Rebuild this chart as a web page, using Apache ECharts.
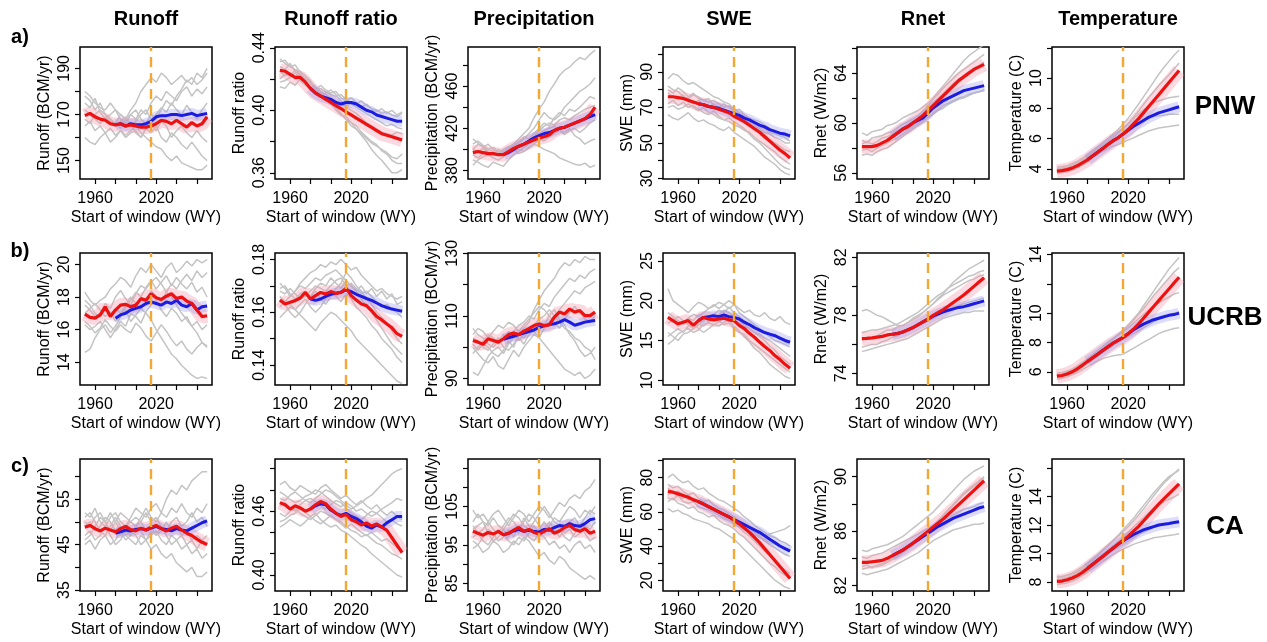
<!DOCTYPE html>
<html>
<head>
<meta charset="utf-8">
<script src="https://cdn.jsdelivr.net/npm/echarts@6/dist/echarts.min.js"></script>
<style>
html, body { margin: 0; padding: 0; background: #fff; }
#chart { width: 1267px; height: 642px; }
</style>
</head>
<body>
<div id="chart"></div>
<script>
// start year of each 30-yr window (every 5 yrs)
var years = [1950,1955,1960,1965,1970,1975,1980,1985,1990,1995,2000,2005,2010,2015,2020,2025,2030,2035,2040,2045,2050,2055,2060,2065,2070];
var blueYears = [1980,1985,1990,1995,2000,2005,2010,2015,2020,2025,2030,2035,2040,2045,2050,2055,2060,2065,2070];
var xTicks = [1960,1980,2000,2020,2040,2060];
var xLabels = [1960,2020];
var columnTitles = ['Runoff','Runoff ratio','Precipitation','SWE','Rnet','Temperature'];
var regionNames = ['PNW','UCRB','CA'];
var rowTags = ['a)','b)','c)'];

// ---- PNW ----
var pnwRunoffRed = [169.5,170.5,169,168,167.5,166,165.5,166,165,165.5,165,164.5,164.5,165,166,167.5,167,166,167.5,166,164.5,166.5,165,166,169];
var pnwRunoffBlue = [165.5,166,165,166,165.5,165.5,166,167,169,169.5,169.5,170,170,169.5,170,170.5,169.5,170,170.5];
var pnwRunoffGray = [
  [178,176,172,175,170,168,166,170,168,172,175,180,183,186,184,188,186,183,185,187,184,186,183,185,188],
  [160,158,157,160,162,158,160,163,161,163,165,162,160,158,156,155,152,150,152,149,148,147,146,146,148],
  [175,173,177,171,168,170,172,168,166,170,168,172,170,175,178,176,180,178,176,180,182,178,181,179,182],
  [165,167,163,165,162,164,161,163,160,162,163,160,164,162,165,160,158,162,160,157,155,158,155,152,150],
  [172,170,168,166,169,167,165,167,169,165,167,170,172,168,170,173,171,175,172,170,174,171,168,172,175],
  [168,166,170,172,170,168,166,164,168,166,162,160,164,166,163,167,165,160,163,165,162,160,163,160,158],
  [180,178,175,173,172,175,172,170,168,170,172,168,166,170,168,172,176,174,178,181,185,183,188,186,190]
];
var pnwRatioRed = [0.4256,0.425,0.423,0.421,0.421,0.418,0.414,0.411,0.409,0.407,0.405,0.403,0.401,0.399,0.397,0.395,0.393,0.391,0.389,0.387,0.385,0.384,0.383,0.382,0.381];
var pnwRatioBlue = [0.414,0.411,0.409,0.408,0.407,0.405,0.404,0.405,0.405,0.404,0.402,0.400,0.399,0.397,0.396,0.395,0.394,0.393,0.393];
var pnwRatioGray = [
  [.431,.432,.428,.429,.424,.420,.418,.415,.412,.410,.408,.406,.404,.402,.400,.398,.395,.392,.390,.388,.386,.385,.384,.386,.385],
  [.415,.414,.418,.416,.420,.421,.417,.413,.410,.407,.405,.400,.397,.396,.392,.388,.384,.380,.375,.371,.368,.364,.360,.360,.362],
  [.428,.426,.430,.425,.422,.418,.415,.413,.414,.412,.410,.409,.410,.407,.405,.404,.406,.403,.401,.400,.398,.399,.397,.396,.398],
  [.420,.423,.422,.426,.423,.420,.417,.414,.411,.408,.404,.401,.398,.394,.392,.390,.386,.383,.380,.378,.374,.372,.368,.366,.366],
  [.425,.422,.424,.420,.419,.416,.414,.411,.409,.411,.413,.410,.406,.403,.404,.402,.400,.398,.396,.394,.392,.390,.391,.389,.388],
  [.433,.430,.428,.426,.425,.422,.419,.414,.409,.407,.404,.402,.398,.394,.390,.388,.385,.382,.379,.377,.375,.373,.370,.369,.372],
  [.418,.419,.421,.424,.420,.418,.415,.413,.416,.413,.411,.412,.408,.406,.408,.405,.402,.404,.401,.399,.401,.398,.400,.397,.399]
];
var pnwPrecipRed = [397,398,397,396,396,395,395,398,401,403,405,407,409,411,412,414,418,420,421,423,425,427,429,433,440];
var pnwPrecipBlue = [395,397,400,403,405,408,411,413,415,416,418,420,421,423,425,427,429,431,433];
var pnwPrecipGray = [
  [400,405,403,398,395,400,397,402,405,410,415,420,430,438,445,455,462,470,475,478,483,487,485,490,494],
  [390,388,385,383,388,386,384,390,395,398,402,405,410,415,418,420,422,418,416,420,413,410,405,408,410],
  [405,408,404,400,402,398,396,400,403,406,410,415,420,428,435,430,428,432,440,445,450,455,458,462,468],
  [395,392,396,400,398,394,398,396,398,400,398,402,405,403,400,398,396,392,390,388,386,385,387,383,385],
  [410,406,402,405,400,397,395,399,404,407,412,410,415,420,425,422,430,435,432,438,436,440,445,450,448],
  [385,390,393,395,392,390,393,398,400,396,398,401,405,410,408,412,415,418,414,418,420,416,420,425,428],
  [400,398,401,397,395,397,400,403,400,404,405,408,412,418,422,425,423,428,430,428,432,435,438,440,442]
];
var pnwSweRed = [76,76,75.5,75,74,73,72,71.5,70.5,70,69,68,67,65,63.5,62,60,58,56,53.5,51,48.5,46,44,41.5];
var pnwSweBlue = [72,71.5,70.5,70,69.5,68.5,67.5,66.5,65.5,64,63,61.5,60,59,57.5,56.5,55.5,55,54];
var pnwSweGray = [
  [86,89,88,85,83,84,82,80,78,76,75,73,72,69,67,65,62,60,57,55,52,50,48,46,45],
  [66,64,63,65,67,64,62,63,61,60,58,57,59,56,54,52,50,48,45,42,40,38,35,33,32],
  [80,78,81,79,76,78,75,74,73,74,72,70,71,68,66,64,62,60,58,56,55,53,52,50,50],
  [72,74,71,73,70,71,69,67,66,68,65,63,64,62,60,58,55,52,50,47,44,41,38,36,35],
  [78,76,75,77,73,72,74,71,70,72,70,68,66,67,65,64,62,61,59,58,56,55,54,53,51],
  [70,71,69,70,72,70,68,70,67,66,64,63,62,60,59,57,56,53,51,49,47,45,42,40,38],
  [82,80,79,76,75,77,76,74,75,71,70,72,70,68,69,66,64,63,62,60,58,57,55,54,53]
];
var pnwRnetRed = [58.1,58.1,58.1,58.2,58.4,58.6,58.9,59.2,59.5,59.7,60.0,60.3,60.6,61.0,61.4,61.8,62.2,62.6,63.0,63.4,63.7,64.0,64.3,64.5,64.7];
var pnwRnetBlue = [58.9,59.2,59.5,59.7,60.0,60.2,60.4,60.8,61.2,61.5,61.8,62.0,62.2,62.4,62.6,62.7,62.8,62.9,63.0];
var pnwRnetGray = [
  [59.2,59.0,59.3,59.4,59.5,59.8,59.9,60.1,60.4,60.6,60.8,61.0,61.3,61.6,62.0,62.5,63.0,63.5,64.0,64.5,65.0,65.4,65.7,66.0,66.3],
  [57.4,57.5,57.4,57.7,57.9,58.0,58.3,58.6,58.9,59.2,59.5,59.8,60.1,60.4,60.7,61.0,61.2,61.5,61.7,61.9,62.0,62.2,62.4,62.5,62.6],
  [58.6,58.4,58.8,58.9,59.0,59.2,59.3,59.6,59.9,60.1,60.3,60.6,61.0,61.4,61.9,62.3,62.8,63.2,63.6,64.0,64.3,64.6,64.9,65.2,65.5],
  [57.8,57.9,57.7,58.0,58.2,58.4,58.6,58.8,59.1,59.4,59.7,60.0,60.2,60.5,60.8,61.1,61.4,61.6,61.8,62.0,62.1,62.3,62.4,62.5,62.7],
  [58.3,58.5,58.3,58.5,58.8,58.9,59.1,59.4,59.6,59.9,60.1,60.4,60.8,61.2,61.6,62.0,62.4,62.8,63.2,63.5,63.8,64.1,64.4,64.6,64.9]
];
var pnwTempRed = [3.85,3.88,3.95,4.05,4.2,4.4,4.6,4.85,5.1,5.35,5.6,5.85,6.05,6.3,6.6,6.95,7.3,7.7,8.1,8.5,8.9,9.3,9.7,10.1,10.5];
var pnwTempBlue = [4.6,4.85,5.1,5.35,5.6,5.85,6.05,6.3,6.55,6.8,7.0,7.2,7.4,7.55,7.7,7.8,7.9,8.0,8.1];
var pnwTempGray = [
  [3.9,3.95,4.05,4.2,4.35,4.6,4.85,5.1,5.4,5.7,6.0,6.3,6.6,6.95,7.35,7.8,8.25,8.75,9.25,9.75,10.25,10.7,11.1,11.5,11.85],
  [3.7,3.75,3.8,3.9,4.05,4.25,4.45,4.7,4.95,5.15,5.35,5.5,5.6,5.75,5.9,6.05,6.2,6.35,6.5,6.6,6.7,6.75,6.8,6.85,6.9],
  [4.1,4.15,4.2,4.35,4.5,4.7,4.95,5.2,5.45,5.7,5.95,6.2,6.45,6.7,7.0,7.3,7.6,7.9,8.15,8.35,8.5,8.6,8.7,8.75,8.8],
  [3.8,3.85,3.95,4.05,4.2,4.4,4.6,4.85,5.1,5.35,5.55,5.8,6.05,6.3,6.55,6.8,7.0,7.2,7.35,7.45,7.5,7.55,7.6,7.6,7.6],
  [4.0,4.05,4.1,4.25,4.4,4.6,4.8,5.05,5.3,5.55,5.8,6.05,6.35,6.65,7.0,7.4,7.8,8.25,8.7,9.1,9.5,9.85,10.2,10.6,11.0]
];

// ---- UCRB ----
var ucrbRunoffRed = [16.95,16.75,16.7,16.9,17.4,16.8,17.2,17.5,17.55,17.4,17.5,17.9,17.8,18.2,17.95,17.85,18.05,18.2,17.9,18.0,17.75,17.6,17.2,16.8,16.85];
var ucrbRunoffBlue = [16.7,16.9,17.0,17.2,17.3,17.4,17.6,17.7,17.6,17.5,17.7,17.6,17.8,17.5,17.4,17.6,17.2,17.4,17.45];
var ucrbRunoffGray = [
  [18.3,17.8,17.5,17.8,18.0,18.5,18.8,19.2,19.0,18.6,19.3,19.8,19.5,20.0,19.6,19.2,19.8,20.1,19.5,19.8,20.2,19.9,20.3,20.1,20.3],
  [14.6,14.8,15.5,16.0,16.3,15.8,16.2,16.8,17.2,16.5,16.9,17.3,17.0,16.6,16.0,15.5,15.0,14.5,14.2,13.8,13.5,13.2,13.0,13.1,13.0],
  [17.5,17.2,16.8,17.0,17.6,17.3,18.0,18.4,17.9,17.5,18.2,18.7,18.5,18.9,19.2,18.8,18.3,18.0,17.5,17.0,16.6,16.2,15.8,15.2,14.9],
  [16.3,16.0,16.2,16.5,16.0,15.5,16.0,16.5,16.2,17.0,16.8,16.4,17.1,17.5,17.8,17.2,16.8,17.3,17.0,16.5,16.8,16.2,16.5,16.0,16.3],
  [17.0,17.3,17.6,17.2,16.8,17.1,16.5,16.9,17.4,17.8,18.3,18.0,18.6,19.0,18.5,18.9,19.3,18.7,19.2,18.8,18.5,18.9,18.3,18.6,18.0],
  [16.5,16.2,15.8,16.1,16.6,16.2,15.9,16.3,16.0,15.8,16.4,16.1,15.6,15.3,15.8,16.3,15.9,15.4,15.0,15.3,14.8,14.5,14.9,15.2,15.0],
  [17.8,17.5,17.0,16.8,17.2,16.9,17.3,17.0,17.5,18.0,17.6,17.2,17.8,18.4,18.0,17.7,18.3,18.8,18.5,19.0,19.4,19.0,19.6,19.2,19.5]
];
var ucrbRatioRed = [0.1646,0.1631,0.1638,0.1644,0.1654,0.1675,0.165,0.1663,0.1675,0.1669,0.1678,0.1671,0.1675,0.1691,0.1663,0.1646,0.1631,0.1625,0.1606,0.1584,0.1571,0.1556,0.1541,0.1519,0.1509];
var ucrbRatioBlue = [0.1650,0.1645,0.1650,0.1660,0.1668,0.1672,0.1676,0.1685,0.1678,0.1668,0.1660,0.1652,0.1645,0.1635,0.1625,0.1618,0.1612,0.1608,0.1604];
var ucrbRatioGray = [
  [.171,.169,.166,.168,.171,.173,.175,.176,.178,.177,.179,.178,.180,.178,.176,.177,.174,.172,.170,.168,.169,.167,.166,.165,.166],
  [.158,.160,.162,.161,.159,.157,.155,.153,.156,.158,.160,.159,.157,.155,.153,.150,.148,.146,.144,.142,.140,.138,.136,.134,.133],
  [.166,.164,.166,.168,.170,.169,.171,.173,.172,.174,.175,.176,.174,.172,.170,.168,.165,.162,.160,.157,.154,.151,.148,.146,.144],
  [.162,.164,.163,.161,.163,.165,.162,.160,.162,.165,.168,.166,.164,.167,.165,.162,.160,.158,.155,.153,.150,.148,.146,.143,.141],
  [.168,.167,.169,.167,.165,.166,.168,.170,.169,.168,.170,.172,.173,.170,.171,.169,.167,.168,.166,.164,.162,.163,.161,.160,.158],
  [.164,.163,.160,.158,.160,.163,.166,.168,.165,.163,.166,.169,.171,.175,.173,.170,.168,.165,.163,.160,.158,.156,.153,.150,.148],
  [.169,.170,.167,.165,.167,.168,.166,.169,.171,.170,.173,.171,.169,.172,.170,.168,.170,.167,.169,.166,.168,.165,.167,.163,.164]
];
var ucrbPrecipRed = [102.1,101.6,100.9,102.7,102.1,101.6,102.7,104.0,104.5,104.0,105.1,105.9,106.9,107.4,106.9,107.1,109.6,111.2,110.6,112.2,111.2,111.7,110.1,110.1,111.2];
var ucrbPrecipBlue = [102.5,103.0,103.5,104.0,104.5,105.0,105.5,106.3,106.8,107.2,107.5,108.0,108.8,108.0,107.0,107.5,108.0,108.3,108.5];
var ucrbPrecipGray = [
  [92,91,94,97,99,100,98,101,103,104,106,108,112,115,118,120,122,125,127,126,128,127,129,128,128],
  [100,98,96,95,97,94,93,96,99,97,100,102,104,103,101,99,97,95,93,92,91,92,90,91,93],
  [106,104,103,101,100,102,104,103,105,107,108,110,109,112,114,113,116,118,120,122,121,123,122,124,125],
  [103,102,100,99,101,103,100,99,101,103,101,104,106,108,107,110,112,109,107,104,102,99,97,98,100],
  [98,100,102,104,103,101,103,105,104,102,104,106,105,103,106,108,110,112,114,116,118,117,119,120,121],
  [104,106,105,103,105,107,106,108,107,105,107,109,111,113,112,110,108,106,109,111,113,111,109,108,110],
  [101,99,101,100,98,97,99,102,100,104,103,105,107,109,110,112,110,108,106,105,103,102,100,99,96]
];
var ucrbSweRed = [17.9,17.5,17.1,17.3,17.5,16.9,17.5,17.9,17.7,17.6,17.7,17.8,17.6,17.5,16.9,16.5,15.9,15.4,14.8,14.25,13.75,13.1,12.6,12.0,11.5];
var ucrbSweBlue = [17.5,17.9,18.0,18.1,18.0,18.2,18.0,17.9,17.7,17.3,17.0,16.6,16.3,16.0,15.8,15.6,15.3,15.0,14.8];
var ucrbSweGray = [
  [21.5,20.0,19.5,19.0,18.5,19.2,19.8,19.5,19.0,19.3,19.8,19.5,19.0,19.5,18.5,18.0,17.5,17.0,16.5,16.0,15.5,15.0,14.8,14.5,14.2],
  [14.5,15.0,15.8,16.2,16.5,16.0,16.3,17.0,17.2,17.0,16.8,17.3,17.5,16.8,16.2,15.5,14.8,14.0,13.5,12.8,12.0,11.5,11.0,10.5,10.2],
  [18.5,18.0,17.5,17.0,17.8,18.3,18.0,18.5,19.0,19.5,19.0,19.5,20.0,19.5,19.0,18.5,18.8,18.2,18.0,18.5,17.8,17.5,18.0,17.3,17.0],
  [16.0,15.5,15.0,15.8,16.0,16.5,17.0,16.8,17.3,17.8,17.5,17.0,17.2,16.5,16.0,15.8,15.0,14.5,14.0,13.5,13.0,12.5,12.0,11.5,11.0],
  [17.2,17.5,18.0,17.5,17.0,16.5,17.0,17.5,18.0,18.3,18.8,18.5,19.2,18.5,18.0,17.5,17.0,16.8,16.3,16.0,15.5,15.8,15.2,14.8,14.5],
  [18.0,17.5,16.8,17.3,17.8,17.5,18.2,18.0,17.5,17.8,18.2,18.8,18.5,18.0,17.5,17.0,16.5,16.0,15.5,15.0,14.3,13.8,13.0,12.5,12.0],
  [15.5,16.0,16.5,16.0,16.8,17.2,16.5,16.0,16.5,17.0,17.3,17.8,18.0,17.5,17.2,16.8,16.5,16.0,15.8,15.3,15.0,14.5,14.0,13.5,13.0]
];
var ucrbRnetRed = [76.4,76.42,76.45,76.5,76.55,76.65,76.7,76.75,76.85,77.0,77.15,77.35,77.55,77.75,78.0,78.2,78.4,78.65,78.9,79.15,79.4,79.7,80.0,80.3,80.6];
var ucrbRnetBlue = [76.7,76.75,76.85,77.0,77.15,77.35,77.55,77.75,77.95,78.1,78.25,78.35,78.45,78.55,78.6,78.7,78.8,78.9,79.0];
var ucrbRnetGray = [
  [78.3,78.4,78.2,78.0,77.9,77.7,77.5,77.3,77.3,77.5,77.8,78.0,78.2,78.5,78.8,79.2,79.5,79.9,80.3,80.6,80.9,81.2,81.4,81.6,81.8],
  [75.5,75.6,75.7,75.8,75.9,76.0,76.1,76.2,76.3,76.4,76.6,76.8,77.0,77.2,77.4,77.6,77.8,77.9,78.0,78.1,78.2,78.2,78.3,78.3,78.3],
  [76.8,76.9,77.0,77.0,77.1,77.2,77.3,77.4,77.6,77.8,78.0,78.2,78.5,78.8,79.1,79.4,79.6,79.9,80.1,80.3,80.5,80.7,80.8,81.0,81.1],
  [75.8,75.9,76.0,76.0,76.2,76.3,76.5,76.6,76.8,76.9,77.1,77.3,77.5,77.6,77.8,78.0,78.2,78.4,78.6,78.7,78.8,78.9,79.0,79.1,79.2],
  [76.3,76.5,76.4,76.6,76.8,77.0,77.0,77.2,77.3,77.5,77.7,77.9,78.2,78.5,78.8,79.1,79.4,79.6,79.8,80.0,80.2,80.4,80.5,80.7,80.8]
];
var ucrbTempRed = [5.7,5.75,5.85,6.0,6.2,6.45,6.7,6.95,7.2,7.45,7.7,7.95,8.15,8.35,8.6,8.9,9.25,9.65,10.05,10.45,10.85,11.25,11.65,12.05,12.45];
var ucrbTempBlue = [6.7,6.95,7.2,7.45,7.7,7.95,8.15,8.35,8.6,8.85,9.05,9.25,9.4,9.55,9.65,9.75,9.85,9.9,10.0];
var ucrbTempGray = [
  [5.8,5.85,5.95,6.1,6.3,6.55,6.8,7.05,7.35,7.65,7.95,8.25,8.55,8.85,9.2,9.6,10.0,10.5,11.0,11.5,12.0,12.5,13.0,13.4,13.8],
  [5.5,5.55,5.65,5.8,5.95,6.15,6.35,6.55,6.75,6.9,7.0,7.1,7.15,7.2,7.4,7.6,7.8,8.0,8.2,8.4,8.6,8.75,8.85,8.95,9.0],
  [5.9,5.95,6.05,6.2,6.4,6.65,6.9,7.15,7.45,7.7,8.0,8.25,8.5,8.75,9.0,9.3,9.6,9.9,10.2,10.5,10.7,10.9,11.1,11.3,11.4],
  [5.6,5.65,5.75,5.9,6.05,6.3,6.55,6.8,7.05,7.3,7.55,7.8,8.0,8.2,8.4,8.6,8.8,9.0,9.2,9.4,9.6,9.75,9.9,10.0,10.1],
  [5.7,5.8,5.9,6.05,6.25,6.5,6.75,7.0,7.3,7.6,7.9,8.2,8.5,8.8,9.15,9.5,9.9,10.3,10.75,11.2,11.6,12.0,12.4,12.8,13.1]
];

// ---- CA ----
var caRunoffRed = [48.8,49.2,48.5,48.0,48.6,48.2,47.8,48.5,49.0,48.3,48.0,48.6,48.2,48.8,49.2,48.5,48.0,48.6,49.0,48.2,47.5,47.0,46.2,45.5,45.0];
var caRunoffBlue = [47.5,47.8,48.2,48.0,48.3,48.5,48.2,48.6,49.0,48.5,48.3,48.0,48.5,48.2,48.0,48.6,49.2,49.8,50.2];
var caRunoffGray = [
  [52,51,53,50,49,51,52,50,49,51,53,52,51,53,54,52,55,57,56,58,57,59,60,61,61],
  [45,46,44,46,47,45,46,48,47,46,45,47,46,44,45,43,42,43,41,40,39,40,38,38,39],
  [50,49,51,52,50,48,50,52,51,50,49,51,53,51,50,52,51,53,52,54,52,51,53,52,54],
  [47,48,46,47,49,47,45,46,48,47,49,48,46,47,48,46,45,47,46,44,45,43,44,42,43],
  [49,50,48,49,51,50,48,47,49,50,51,50,52,50,51,49,48,50,51,49,50,52,50,51,49],
  [51,52,50,48,47,49,51,49,47,48,47,45,46,48,47,49,47,45,46,47,45,46,44,46,45],
  [46,47,49,51,50,52,50,48,46,47,49,50,48,49,47,48,50,48,49,47,48,46,47,46,47]
];
var caRatioRed = [0.468,0.466,0.462,0.465,0.463,0.460,0.462,0.466,0.469,0.467,0.462,0.458,0.455,0.457,0.452,0.450,0.447,0.449,0.446,0.448,0.445,0.442,0.435,0.428,0.421];
var caRatioBlue = [0.462,0.465,0.467,0.466,0.461,0.458,0.456,0.458,0.455,0.453,0.450,0.446,0.444,0.447,0.445,0.449,0.452,0.455,0.455];
var caRatioGray = [
  [.485,.488,.482,.479,.484,.481,.478,.476,.482,.485,.480,.476,.472,.475,.470,.466,.470,.465,.462,.466,.460,.456,.460,.455,.452],
  [.445,.448,.452,.449,.446,.450,.455,.458,.452,.448,.445,.447,.442,.440,.436,.432,.428,.425,.420,.416,.412,.408,.404,.400,.398],
  [.472,.470,.475,.478,.474,.470,.468,.472,.476,.480,.478,.474,.470,.466,.462,.465,.468,.472,.475,.480,.485,.490,.495,.498,.500],
  [.458,.455,.460,.462,.458,.455,.452,.456,.460,.458,.455,.452,.450,.446,.442,.440,.436,.438,.434,.430,.428,.424,.420,.418,.415],
  [.465,.468,.463,.460,.466,.470,.472,.469,.465,.462,.466,.470,.468,.463,.458,.455,.452,.456,.460,.458,.454,.450,.452,.448,.446],
  [.450,.452,.456,.458,.462,.459,.455,.451,.448,.452,.456,.452,.448,.444,.448,.444,.440,.437,.440,.436,.432,.434,.430,.426,.422],
  [.478,.475,.471,.468,.470,.474,.476,.480,.478,.474,.470,.467,.464,.468,.465,.460,.462,.458,.455,.458,.462,.465,.468,.472,.470]
];
var caPrecipRed = [98.5,98.0,97.5,98.2,97.8,98.5,97.6,98.0,98.8,99.5,98.5,99.0,98.2,97.8,98.5,99.2,98.0,98.6,99.5,100.0,99.0,98.5,99.2,98.0,98.5];
var caPrecipBlue = [97.6,98.0,98.6,99.0,98.5,98.8,98.5,98.3,99.0,98.8,99.5,100.0,99.8,100.5,100.0,99.8,100.5,101.5,101.8];
var caPrecipGray = [
  [104,102,103,101,103,104,102,100,102,104,103,101,103,105,104,102,104,106,105,107,108,107,109,110,112],
  [94,95,93,94,96,95,93,94,96,95,97,96,94,92,93,91,90,92,91,89,88,87,86,87,86],
  [100,98,99,101,99,98,100,102,101,99,101,103,102,100,98,100,102,101,103,105,104,102,104,103,105],
  [97,98,96,95,97,99,98,96,95,97,96,98,100,98,97,95,96,94,95,93,95,96,94,95,93],
  [101,103,101,100,102,100,99,101,103,102,100,99,101,103,105,103,101,100,98,99,97,98,100,99,101],
  [96,95,97,99,98,96,97,99,97,100,99,97,96,98,99,101,99,97,99,101,102,100,98,96,97],
  [99,100,101,98,96,97,99,97,99,98,102,100,98,99,101,99,98,99,97,96,98,100,102,104,103]
];
var caSweRed = [72,71.5,70.5,69.5,68.5,67,66,64.5,63,61.5,60,58.5,57,55,53,50.5,48,45,42,38.5,35,31.5,28,24.5,21];
var caSweBlue = [66,64.5,63,61.5,60,58.5,57,55.5,54,52.5,51,49.5,48,46,44,42,40,38.5,37];
var caSweGray = [
  [80,82,79,77,78,75,73,74,71,69,67,66,64,62,60,57,55,52,50,48,46,45,43,42,40],
  [62,60,61,59,58,56,55,54,53,51,50,48,46,44,41,38,35,32,29,26,23,20,18,16,15],
  [76,74,75,72,70,71,68,66,67,64,62,61,59,57,55,53,50,48,46,43,41,39,37,35,34],
  [66,68,65,64,62,63,60,59,57,58,55,53,52,50,47,45,42,39,36,33,30,28,25,23,21],
  [70,72,69,68,70,67,65,66,63,62,60,58,57,55,53,51,49,47,45,44,42,41,40,38,38],
  [74,71,72,70,67,68,66,64,62,60,59,57,55,53,51,48,46,43,40,37,34,31,28,26,24],
  [68,67,70,66,65,66,63,62,61,60,58,56,55,54,52,50,49,48,47,46,47,48,49,50,52]
];
var caRnetRed = [83.7,83.7,83.75,83.8,83.85,84.0,84.2,84.4,84.6,84.85,85.1,85.4,85.7,86.0,86.3,86.6,86.9,87.25,87.6,87.95,88.3,88.65,89.0,89.35,89.7];
var caRnetBlue = [84.2,84.4,84.6,84.85,85.1,85.35,85.6,85.85,86.1,86.35,86.55,86.75,86.95,87.1,87.25,87.4,87.55,87.7,87.8];
var caRnetGray = [
  [84.6,84.5,84.7,84.8,84.9,85.0,85.2,85.4,85.6,85.9,86.2,86.5,86.8,87.1,87.4,87.8,88.2,88.6,89.0,89.4,89.8,90.1,90.4,90.6,90.8],
  [82.9,82.8,82.9,83.0,83.1,83.2,83.4,83.6,83.8,84.0,84.2,84.4,84.7,85.0,85.3,85.5,85.7,85.9,86.1,86.2,86.3,86.4,86.5,86.5,86.6],
  [83.4,83.5,83.3,83.5,83.6,83.8,84.0,84.2,84.5,84.8,85.0,85.3,85.6,85.9,86.3,86.7,87.1,87.5,87.9,88.3,88.7,89.0,89.3,89.6,89.9],
  [84.1,84.0,84.2,84.3,84.4,84.6,84.8,85.0,85.2,85.4,85.6,85.8,86.0,86.2,86.4,86.6,86.8,87.0,87.2,87.4,87.6,87.7,87.8,88.0,88.1],
  [83.2,83.3,83.4,83.4,83.5,83.7,83.9,84.1,84.4,84.7,85.0,85.3,85.6,86.0,86.4,86.8,87.2,87.6,88.0,88.4,88.8,89.1,89.4,89.7,90.0]
];
var caTempRed = [8.05,8.07,8.16,8.28,8.45,8.67,8.95,9.24,9.52,9.80,10.09,10.37,10.65,10.94,11.22,11.56,11.90,12.29,12.69,13.09,13.48,13.84,14.2,14.55,14.9];
var caTempBlue = [8.95,9.24,9.52,9.80,10.09,10.37,10.65,10.88,11.11,11.33,11.50,11.67,11.78,11.90,12.01,12.07,12.12,12.18,12.24];
var caTempGray = [
  [8.28,8.33,8.45,8.56,8.73,8.95,9.24,9.52,9.86,10.2,10.54,10.88,11.22,11.56,11.9,12.29,12.69,13.14,13.6,14.05,14.5,14.95,15.29,15.63,15.97],
  [7.82,7.88,7.94,8.05,8.22,8.45,8.67,8.95,9.18,9.46,9.69,9.92,10.14,10.31,10.48,10.65,10.77,10.88,10.99,11.11,11.16,11.22,11.28,11.33,11.39],
  [8.16,8.22,8.33,8.45,8.62,8.84,9.12,9.41,9.69,9.97,10.26,10.54,10.82,11.16,11.5,11.84,12.18,12.52,12.86,13.14,13.43,13.65,13.82,13.99,14.16],
  [7.94,7.99,8.05,8.16,8.33,8.56,8.79,9.07,9.35,9.63,9.92,10.2,10.43,10.65,10.88,11.11,11.33,11.5,11.67,11.84,11.95,12.07,12.12,12.18,12.24],
  [8.39,8.39,8.5,8.62,8.84,9.07,9.35,9.63,9.92,10.26,10.6,10.94,11.28,11.67,12.07,12.46,12.92,13.37,13.82,14.28,14.67,15.07,15.41,15.63,15.86]
];

// panel axis setup: [row, col, yName, min, max, ticks, labels, decimals, red, blue, gray]
var panels = [
  [0,0,'Runoff (BCM/yr)',142,199.3,[150,160,170,180,190],[150,170,190],0,pnwRunoffRed,pnwRunoffBlue,pnwRunoffGray],
  [0,1,'Runoff ratio',0.356,0.4405,[0.36,0.38,0.40,0.42,0.44],[0.36,0.40,0.44],2,pnwRatioRed,pnwRatioBlue,pnwRatioGray],
  [0,2,'Precipitation (BCM/yr)',372,497,[380,400,420,440,460,480],[380,420,460],0,pnwPrecipRed,pnwPrecipBlue,pnwPrecipGray],
  [0,3,'SWE (mm)',29.7,104,[30,40,50,60,70,80,90,100],[30,50,70,90],0,pnwSweRed,pnwSweBlue,pnwSweGray],
  [0,4,'Rnet (W/m2)',55.5,66.1,[56,58,60,62,64,66],[56,60,64],0,pnwRnetRed,pnwRnetBlue,pnwRnetGray],
  [0,5,'Temperature (C)',3.33,12.05,[4,6,8,10,12],[4,6,8,10],0,pnwTempRed,pnwTempBlue,pnwTempGray],
  [1,0,'Runoff (BCM/yr)',12.6,20.7,[14,16,18,20],[14,16,18,20],0,ucrbRunoffRed,ucrbRunoffBlue,ucrbRunoffGray],
  [1,1,'Runoff ratio',0.1325,0.1824,[0.14,0.15,0.16,0.17,0.18],[0.14,0.16,0.18],2,ucrbRatioRed,ucrbRatioBlue,ucrbRatioGray],
  [1,2,'Precipitation (BCM/yr)',87.9,130.1,[90,100,110,120,130],[90,110,130],0,ucrbPrecipRed,ucrbPrecipBlue,ucrbPrecipGray],
  [1,3,'SWE (mm)',9.4,26,[10,15,20,25],[10,15,20,25],0,ucrbSweRed,ucrbSweBlue,ucrbSweGray],
  [1,4,'Rnet (W/m2)',73.2,82.3,[74,76,78,80,82],[74,78,82],0,ucrbRnetRed,ucrbRnetBlue,ucrbRnetGray],
  [1,5,'Temperature (C)',5.1,14.1,[6,8,10,12,14],[6,8,10,14],0,ucrbTempRed,ucrbTempBlue,ucrbTempGray],
  [2,0,'Runoff (BCM/yr)',34.8,63.8,[35,40,45,50,55,60],[35,45,55],0,caRunoffRed,caRunoffBlue,caRunoffGray],
  [2,1,'Runoff ratio',0.385,0.509,[0.40,0.42,0.44,0.46,0.48,0.50],[0.40,0.46],2,caRatioRed,caRatioBlue,caRatioGray],
  [2,2,'Precipitation (BCM/yr)',83,117.3,[85,90,95,100,105,110,115],[85,95,105],0,caPrecipRed,caPrecipBlue,caPrecipGray],
  [2,3,'SWE (mm)',13.7,90.9,[20,30,40,50,60,70,80,90],[20,40,60,80],0,caSweRed,caSweBlue,caSweGray],
  [2,4,'Rnet (W/m2)',81.6,91.3,[82,84,86,88,90],[82,86,90],0,caRnetRed,caRnetBlue,caRnetGray],
  [2,5,'Temperature (C)',7.37,16.65,[8,10,12,14,16],[8,10,12,14],0,caTempRed,caTempBlue,caTempGray]
];

var font = '"Liberation Sans", Arial, sans-serif';
var colLeft = [80, 275, 468, 663, 857, 1052];
var rowTop = [47, 253, 459];
var boxW = 132, boxH = 132;

function pairs(xs, ys) {
  return ys.map(function (v, i) { return [xs[i], v]; });
}

var grids = [], xAxes = [], yAxes = [], series = [];
panels.forEach(function (p, i) {
  var dec = p[7];
  grids.push({
    left: colLeft[p[1]], top: rowTop[p[0]], width: boxW, height: boxH,
    show: true, borderColor: '#000', borderWidth: 1.5, backgroundColor: 'rgba(0,0,0,0)'
  });
  xAxes.push({
    type: 'value', gridIndex: i, min: 1945.2, max: 2074.8,
    name: 'Start of window (WY)', nameLocation: 'middle', nameGap: 31,
    nameTextStyle: { fontSize: 16, color: '#000', fontFamily: font },
    axisLine: { show: false },
    axisTick: { show: true, length: 5, customValues: xTicks, lineStyle: { color: '#000', width: 1.2 } },
    axisLabel: { customValues: xLabels, margin: 12, fontSize: 16, color: '#000', fontFamily: font,
      formatter: function (v) { return String(v); } },
    splitLine: { show: false }
  });
  yAxes.push({
    type: 'value', gridIndex: i, min: p[3], max: p[4],
    name: p[2], nameLocation: 'middle', nameGap: 27,
    nameTextStyle: { fontSize: 16, color: '#000', fontFamily: font },
    axisLine: { show: false },
    axisTick: { show: true, length: 5, customValues: p[5], lineStyle: { color: '#000', width: 1.2 } },
    axisLabel: { customValues: p[6], rotate: 90, margin: 7, fontSize: 16, color: '#000', fontFamily: font,
      formatter: function (v) { return v.toFixed(dec); } },
    splitLine: { show: false }
  });
  p[10].forEach(function (g) {
    series.push({
      type: 'line', xAxisIndex: i, yAxisIndex: i, data: pairs(years, g),
      showSymbol: false, silent: true, z: 1,
      lineStyle: { color: '#c4c4c4', width: 1.5 }
    });
  });
  // shaded spread around the two ensemble means
  series.push({
    type: 'line', xAxisIndex: i, yAxisIndex: i, data: pairs(years, p[8]),
    showSymbol: false, silent: true, z: 2,
    lineStyle: { color: 'rgba(240,150,170,0.36)', width: 14 }
  });
  series.push({
    type: 'line', xAxisIndex: i, yAxisIndex: i, data: pairs(blueYears, p[9]),
    showSymbol: false, silent: true, z: 2,
    lineStyle: { color: 'rgba(150,150,240,0.32)', width: 11 }
  });
  series.push({
    type: 'line', xAxisIndex: i, yAxisIndex: i, data: pairs(blueYears, p[9]),
    showSymbol: false, silent: true, z: 3,
    lineStyle: { color: '#1c1ce0', width: 3 }
  });
  series.push({
    type: 'line', xAxisIndex: i, yAxisIndex: i, data: pairs(years, p[8]),
    showSymbol: false, silent: true, z: 4,
    lineStyle: { color: '#ee1111', width: 3.2 },
    markLine: {
      silent: true, symbol: 'none', z: 5,
      label: { show: false },
      lineStyle: { color: '#f3a833', type: [10, 6], width: 2.4 },
      data: [{ xAxis: 2015 }]
    }
  });
});

var graphics = [];
columnTitles.forEach(function (t, c) {
  graphics.push({ type: 'text', x: colLeft[c] + boxW / 2, y: 19,
    style: { text: t, font: 'bold 20px ' + font, fill: '#000', textAlign: 'center', textVerticalAlign: 'middle' } });
});
var tagY = [37, 251, 466];
rowTags.forEach(function (t, r) {
  graphics.push({ type: 'text', x: 20, y: tagY[r],
    style: { text: t, font: 'bold 20px ' + font, fill: '#000', textAlign: 'center', textVerticalAlign: 'middle' } });
});
var regionY = [107, 318, 527];
regionNames.forEach(function (t, r) {
  graphics.push({ type: 'text', x: 1225, y: regionY[r],
    style: { text: t, font: 'bold 26px ' + font, fill: '#000', textAlign: 'center', textVerticalAlign: 'middle' } });
});

var chart = echarts.init(document.getElementById('chart'));
chart.setOption({
  animation: false,
  backgroundColor: '#fff',
  grid: grids,
  xAxis: xAxes,
  yAxis: yAxes,
  series: series,
  graphic: graphics
});
</script>
</body>
</html>
